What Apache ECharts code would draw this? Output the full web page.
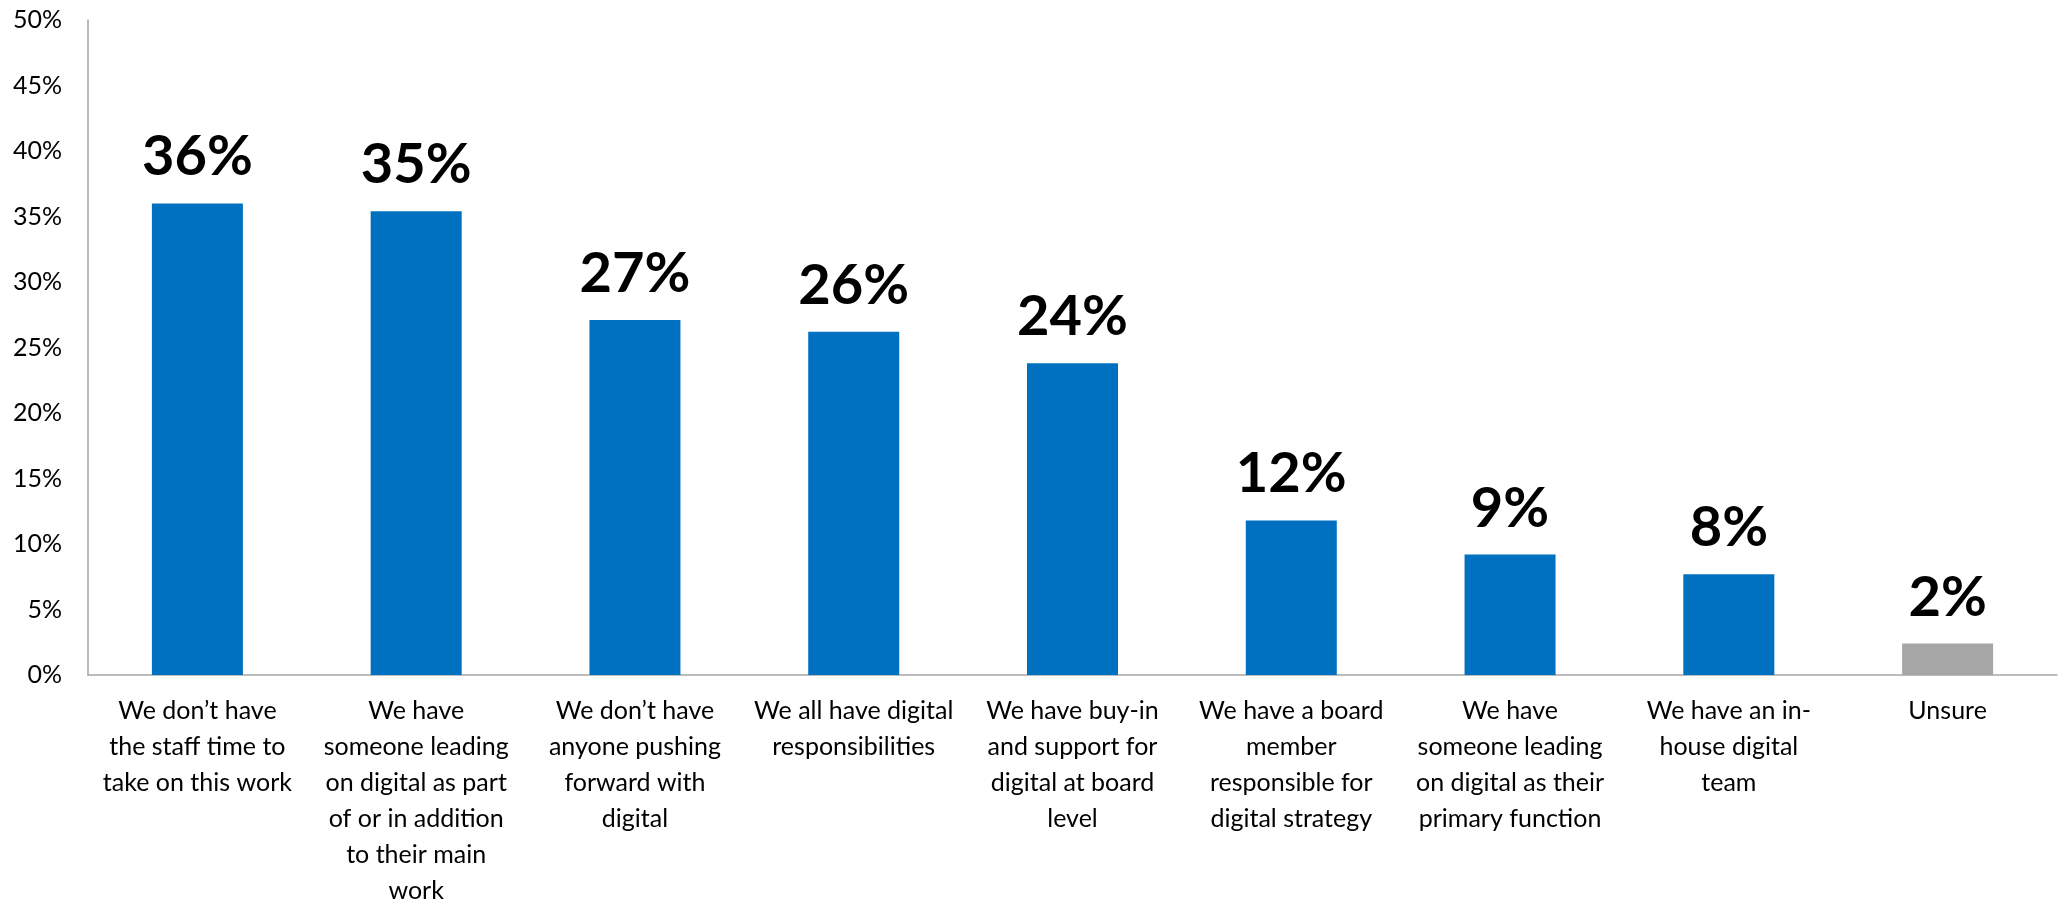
<!DOCTYPE html>
<html>
<head>
<meta charset="utf-8">
<style>
  html, body { margin: 0; padding: 0; background: #ffffff; }
  #chart { width: 2061px; height: 904px; }
</style>
<script src="https://cdn.jsdelivr.net/npm/echarts@6/dist/echarts.min.js"></script>
</head>
<body>
<div id="chart"></div>
<script>
// Survey answers about digital capacity (share of respondents, %)
const categories = [
  'We don\u2019t have\nthe staff time to\ntake on this work',
  'We have\nsomeone leading\non digital as part\nof or in addition\nto their main\nwork',
  'We don\u2019t have\nanyone pushing\nforward with\ndigital',
  'We all have digital\nresponsibilities',
  'We have buy-in\nand support for\ndigital at board\nlevel',
  'We have a board\nmember\nresponsible for\ndigital strategy',
  'We have\nsomeone leading\non digital as their\nprimary function',
  'We have an in-\nhouse digital\nteam',
  'Unsure'
];
const shares = [36.0, 35.4, 27.1, 26.2, 23.8, 11.8, 9.2, 7.7, 2.4];
const yTicks = [0, 5, 10, 15, 20, 25, 30, 35, 40, 45, 50];

const BLUE = '#0070C0';
const GREY = '#A6A6A6';

const chart = echarts.init(document.getElementById('chart'), null, { renderer: 'canvas' });

chart.setOption({
  backgroundColor: '#ffffff',
  animation: false,
  grid: {
    left: 88, right: 4, top: 20, bottom: 229,
    containLabel: false,
    outerBoundsMode: 'none'
  },
  xAxis: {
    type: 'category',
    data: categories,
    axisLine: { show: true, lineStyle: { color: '#A6A6A6', width: 1.5 } },
    axisTick: { show: false },
    axisLabel: {
      interval: 0,
      margin: 18,
      color: '#000000',
      fontFamily: 'Lato',
      fontSize: 25,
      lineHeight: 36,
      align: 'center'
    }
  },
  yAxis: {
    type: 'value',
    min: yTicks[0],
    max: yTicks[yTicks.length - 1],
    interval: 5,
    axisLine: { show: true, lineStyle: { color: '#A6A6A6', width: 1.5 } },
    axisTick: { show: false },
    splitLine: { show: false },
    axisLabel: {
      margin: 26,
      color: '#000000',
      fontFamily: 'Lato',
      fontSize: 25,
      formatter: v => v + '%'
    }
  },
  series: [{
    type: 'bar',
    data: shares.map((v, i) => ({
      value: v,
      itemStyle: { color: categories[i] === 'Unsure' ? GREY : BLUE }
    })),
    barWidth: 91,
    label: {
      show: true,
      position: 'top',
      distance: 18,
      color: '#000000',
      fontFamily: 'Lato',
      fontWeight: 'bold',
      fontSize: 56,
      lineHeight: 56,
      formatter: p => Math.round(p.value) + '%'
    }
  }]
});
</script>
</body>
</html>
